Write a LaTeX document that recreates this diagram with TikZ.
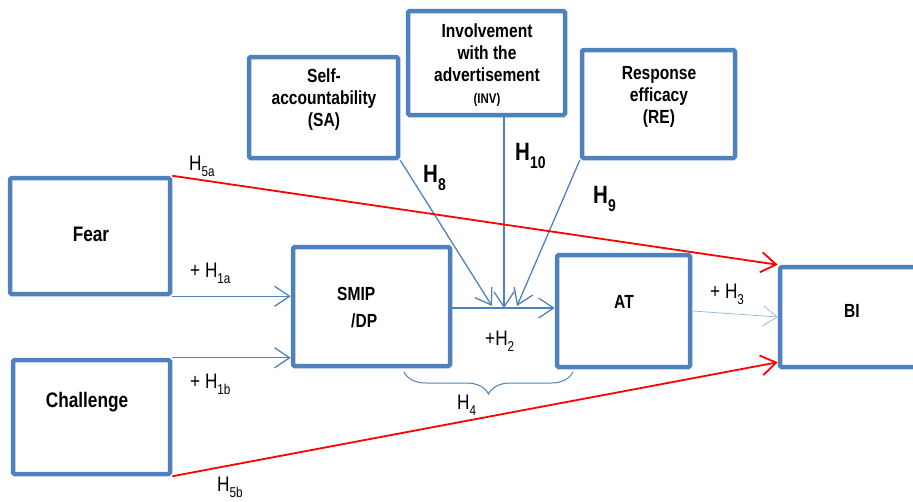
\documentclass[tikz,border=0pt]{standalone}
\usepackage{fontspec}
\setmainfont[FakeStretch=0.82]{Liberation Sans}
\usepackage{graphicx}
\usetikzlibrary{arrows.meta,calc,decorations.pathreplacing}

\definecolor{boxblue}{HTML}{4F81BD}
\definecolor{thinblue}{HTML}{8EB4E3}
\definecolor{hred}{HTML}{FF0000}

% hypothesis label with a lowered, smaller index
\newcommand{\Hsub}[1]{H\raisebox{-0.33em}{\scalebox{0.68}{#1}}}

\tikzset{
  construct/.style={draw=boxblue, line width=4.5pt, rounded corners=1.5pt,
    fill=white, inner sep=0pt},
  boxtext/.style={inner sep=0pt, align=center,
    font=\fontsize{19}{22}\selectfont\bfseries},
  bigboxtext/.style={boxtext, font=\fontsize{21}{24}\selectfont\bfseries},
  hlabel/.style={inner sep=0pt, anchor=base west,
    font=\fontsize{21}{24}\selectfont},
  hbold/.style={inner sep=0pt, anchor=base west,
    font=\fontsize{25}{28}\selectfont\bfseries},
  link/.style={draw=boxblue, line width=1.3pt,
    -{Straight Barb[length=15pt,width=20pt]}},
  thinlink/.style={draw=thinblue, line width=0.7pt,
    -{Straight Barb[length=14pt,width=20pt]}},
  redlink/.style={draw=hred, line width=1.8pt,
    -{Straight Barb[length=15pt,width=20pt]}},
  bracket/.style={draw=boxblue, line width=1pt, decorate,
    decoration={brace, mirror, amplitude=22pt}}
}

\begin{document}
\begin{tikzpicture}[x=1pt,y=-1pt]
\useasboundingbox (0,0) rectangle (913,501);

% constructs
\node[construct, minimum width=160pt, minimum height=116pt] (fear) at (90,236) {};
\node[construct, minimum width=157pt, minimum height=114pt] (chal) at (91.5,417) {};
\node[construct, minimum width=157pt, minimum height=119pt] (smip) at (371.5,306.5) {};
\node[construct, minimum width=133pt, minimum height=112pt] (at) at (623.5,311) {};
\node[construct, minimum width=145pt, minimum height=100pt] (bi) at (852.5,317) {};
\node[construct, minimum width=149pt, minimum height=101pt] (sa) at (323.5,107.5) {};
\node[construct, minimum width=157pt, minimum height=104pt] (inv) at (486.5,63) {};
\node[construct, minimum width=153pt, minimum height=108pt] (re) at (658.5,104) {};

% construct names
\node[bigboxtext] (fearT) at (91,234) {Fear};
\node[bigboxtext] (chalT) at (87,402) {Challenge};
\node[boxtext, align=left, anchor=west] (smipT) at (337,308) {SMIP\\[5pt]\hspace*{14pt}/DP};
\node[boxtext] (atT) at (624,302) {AT};
\node[boxtext] (biT) at (852,311) {BI};
\node[boxtext] (saT) at (324,100) {Self-\\accountability\\(SA)};
\node[boxtext] (invT) at (487,65) {Involvement\\with the\\advertisement\\{\fontsize{14}{16}\selectfont(INV)}};
\node[boxtext] (reT) at (659,97) {Response\\efficacy\\(RE)};

% moderation meeting points on the SMIP/DP -> AT path
\coordinate (jL) at (492,306);
\coordinate (jM) at (504,308);
\coordinate (jR) at (517,306);

% paths
\draw[link] (fear.south east) -- (fear.south east -| smip.west);
\draw[link] (chal.north east) -- (chal.north east -| smip.west);
\draw[link] (smip.east |- jM) -- (at.west |- jM);
\draw[link] (sa.south east) -- (jL);
\draw[link] (inv.south -| jM) -- (jM);
\draw[link] (re.south west) -- (jR);
\draw[thinlink] (at.east) -- (bi.west);
\draw[redlink] (fear.north east) -- (bi.north west);
\draw[redlink] (chal.south east) -- ($(bi.south west)+(0,-7)$);

% mediation bracket
\coordinate (brA) at (404,372);
\coordinate (brB) at (573,372);
\draw[bracket] (brA) -- (brB);

% hypothesis labels
\node[hlabel] (h5a) at (189,170) {\Hsub{5a}};
\node[hlabel] (h1a) at (190,277) {+ \Hsub{1a}};
\node[hlabel] (h1b) at (190,388) {+ \Hsub{1b}};
\node[hlabel] (h5b) at (217,491) {\Hsub{5b}};
\node[hlabel] (h2) at (485,345) {+\Hsub{2}};
\node[hlabel] (h4) at (457,409) {\Hsub{4}};
\node[hlabel] (h3) at (710,298) {+ \Hsub{3}};
\node[hbold] (h8) at (423,182) {\Hsub{8}};
\node[hbold] (h10) at (515,160) {\Hsub{10}};
\node[hbold] (h9) at (593,203) {\Hsub{9}};
\end{tikzpicture}
\end{document}
